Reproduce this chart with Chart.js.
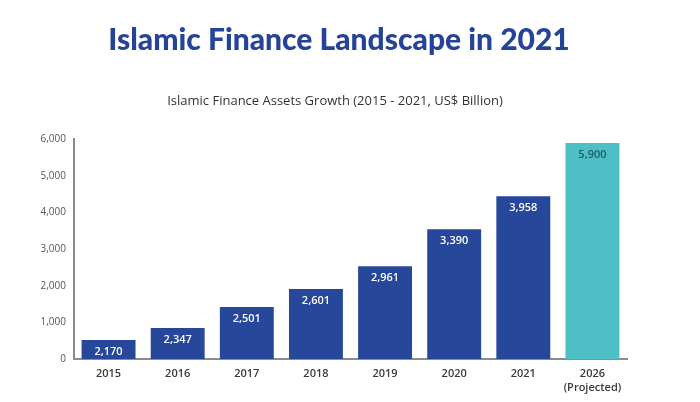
<!DOCTYPE html>
<html><head><meta charset="utf-8">
<script src="https://cdn.jsdelivr.net/npm/chart.js@4"></script>
<style>html,body{margin:0;padding:0;background:#fff;}#wrap{width:700px;height:402px;}</style>
</head><body><div id="wrap"><canvas id="c" width="700" height="402"></canvas></div>
<script>
const categories = [['2015'], ['2016'], ['2017'], ['2018'], ['2019'], ['2020'], ['2021'], ['2026', '(Projected)']];
const barHeights = [520, 850, 1420, 1910, 2530, 3540, 4440, 5890];
const valueLabels = ['2,170', '2,347', '2,501', '2,601', '2,961', '3,390', '3,958', '5,900'];
const yTicks = [0, 1000, 2000, 3000, 4000, 5000, 6000];
const titleText = 'Islamic Finance Landscape in 2021';
const subtitleText = 'Islamic Finance Assets Growth (2015 - 2021, US$ Billion)';

const barColors = categories.map((c, i) => i === categories.length - 1 ? '#4dbfc5' : '#27479b');
const labelColors = categories.map((c, i) => i === categories.length - 1 ? '#1d5e63' : '#ffffff');

const labelPlugin = {
  id: 'barLabels',
  afterDatasetsDraw(chart) {
    const ctx = chart.ctx;
    const meta = chart.getDatasetMeta(0);
    ctx.save();
    ctx.font = '600 11px "Open Sans", sans-serif';
    ctx.textAlign = 'center';
    ctx.textBaseline = 'middle';
    meta.data.forEach((bar, i) => {
      ctx.fillStyle = labelColors[i];
      ctx.fillText(valueLabels[i], bar.x, bar.y + 12);
    });
    ctx.restore();
  }
};

const headingPlugin = {
  id: 'heading',
  afterDraw(chart) {
    const ctx = chart.ctx;
    ctx.save();
    ctx.textAlign = 'center';
    ctx.textBaseline = 'middle';
    ctx.fillStyle = '#26439a';
    ctx.font = '900 30px Lato, sans-serif';
    ctx.fillText(titleText, 339, 40);
    ctx.fillStyle = '#333333';
    ctx.font = '500 13px "Open Sans", sans-serif';
    ctx.fillText(subtitleText, 335, 101);
    ctx.restore();
  }
};

new Chart(document.getElementById('c'), {
  type: 'bar',
  data: {
    labels: categories,
    datasets: [{
      data: barHeights,
      backgroundColor: barColors,
      borderWidth: 0,
      barPercentage: 0.78,
      categoryPercentage: 1.0
    }]
  },
  options: {
    responsive: false,
    animation: false,
    devicePixelRatio: 1,
    layout: { padding: { left: 0, right: 73, top: 139, bottom: 0 } },
    plugins: {
      legend: { display: false },
      tooltip: { enabled: false },
      title: { display: false },
      subtitle: { display: false }
    },
    scales: {
      x: {
        grid: { display: false, drawTicks: false },
        border: { display: true, color: '#8c8c8c', width: 2 },
        ticks: {
          color: '#3a3a3a',
          font: { family: '"Open Sans"', size: 11, weight: '600', lineHeight: 1.27 },
          padding: 7.5,
          maxRotation: 0,
          autoSkip: false
        }
      },
      y: {
        min: 0,
        max: 6000,
        afterFit(scale) { scale.width = 74; },
        afterBuildTicks(scale) { scale.ticks = yTicks.map(v => ({ value: v })); },
        grid: { display: false, drawTicks: false },
        border: { display: true, color: '#8c8c8c', width: 2 },
        ticks: {
          color: '#555555',
          font: { family: '"Open Sans"', size: 10 },
          padding: 8,
          callback: v => v.toLocaleString('en-US')
        }
      }
    }
  },
  plugins: [labelPlugin, headingPlugin]
});
</script>
</body></html>
